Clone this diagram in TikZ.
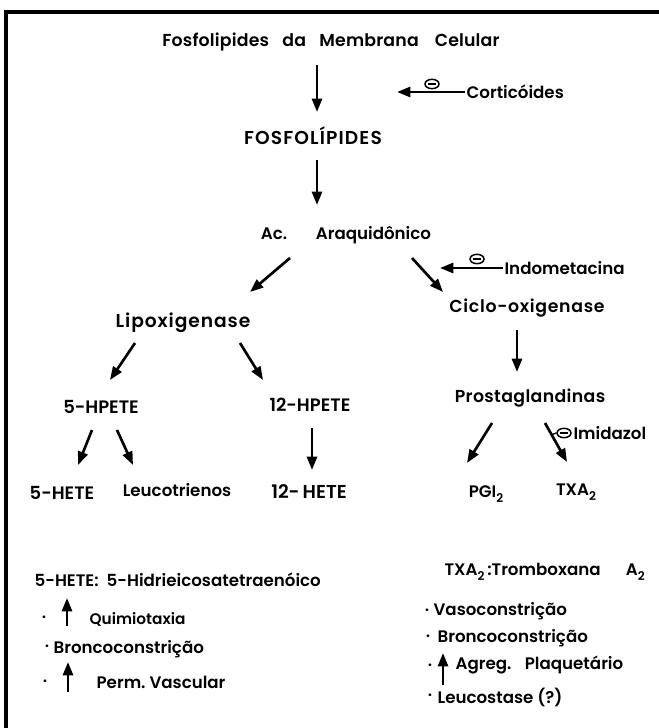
\documentclass[tikz,border=0pt]{standalone}
\usepackage{fontspec}
\setmainfont{Poppins SemiBold}
\usetikzlibrary{arrows.meta,calc,shapes.geometric}
\newcommand{\subdown}[1]{\raisebox{-0.5ex}{\small #1}}

\begin{document}
\begin{tikzpicture}[x=0.75pt, y=-0.75pt, every node/.style={font=\fontsize{12.5}{14}\selectfont, inner sep=1pt}, >={Triangle[length=10pt,width=7.5pt]},
	arr/.style={->, line width=2pt},
	neg/.style={draw, ellipse, line width=1.1pt, minimum width=10.5pt, minimum height=7pt, inner sep=0pt,
		path picture={\draw[line width=0.9pt] ([xshift=2.5pt]path picture bounding box.west) -- ([xshift=-2.5pt]path picture bounding box.east);}},
	dot/.style={anchor=center, font=\fontsize{12}{13}\selectfont},
	sized/.style 2 args={font=\fontsize{#1}{#1}\selectfont\addfontfeature{LetterSpace=#2}}]
	\useasboundingbox (0,0) rectangle (659,728);
	\draw[line width=2.3pt] (659,12) -- (6,12) -- (6,728);
	\node[sized={13}{1}] (memb) at (331,42) {Fosfolipides\hspace{10pt}da\hspace{10pt}Membrana\hspace{12pt}Celular};
	\node[sized={14}{6}] (fosfo) at (313,136) {FOSFOLÍPIDES};
	\node (ac) at (346,235) {Ac.\quad\ \ \ Araquidônico};
	\node[sized={14}{5}] (lipo) at (183,323) {Lipoxigenase};
	\node[sized={13}{4}] (ciclo) at (527,308) {Ciclo-oxigenase};
	\node[sized={13}{2}] (prosta) at (530,398) {Prostaglandinas};
	\node[sized={13.5}{0}] (hpete5) at (101,407) {5-HPETE};
	\node[sized={13.5}{0}] (hpete12) at (310,405) {12-HPETE};
	\node[sized={13.5}{0}] (hete5) at (62,493) {5-HETE};
	\node (leuco) at (177,490) {Leucotrienos};
	\node[sized={14}{0}] (hete12) at (309,492) {12-\,HETE};
	\node (pgi) at (486,494) {PGI\subdown{2}};
	\node (txa) at (576,492) {TXA\subdown{2}};
	\draw[arr] ($(memb)+(-14,23)$) -- ($(fosfo)+(4,-24)$);
	\draw[arr] ($(fosfo)+(4,24)$) -- ($(ac)+(-29,-30)$);
	\draw[arr] ($(ac)+(-56,23)$) -- ($(lipo)+(67,-31)$);
	\draw[arr] ($(ac)+(66,23)$) -- ($(ciclo)+(-84,-16)$);
	\draw[arr] ($(lipo)+(-48,20)$) -- ($(hpete5)+(9,-27)$);
	\draw[arr] ($(lipo)+(57,20)$) -- ($(hpete12)+(-47,-25)$);
	\draw[arr] ($(ciclo)+(-10,22)$) -- ($(prosta)+(-13,-26)$);
	\draw[arr] ($(hpete5)+(-9,23)$) -- ($(hete5)+(16,-28)$);
	\draw[arr] ($(hpete5)+(16,23)$) -- ($(leuco)+(-44,-25)$);
	\draw[arr] ($(hpete12)+(2,23)$) -- ($(hete12)+(3,-22)$);
	\draw[arr] ($(prosta)+(-38,25)$) -- ($(pgi)+(-19,-31)$);
	\draw[arr] ($(prosta)+(15,25)$) -- coordinate[pos=0.3] (txin) ($(txa)+(-9,-30)$);
	\node[anchor=west] (cortic) at (465,92) {Corticóides};
	\coordinate (corticend) at (397,92);
	\draw[arr] (cortic.west) -- (corticend);
	\node[neg] (neg1) at (432,84) {};
	\node[anchor=west] (indo) at (503,268) {Indometacina};
	\coordinate (indoend) at (440,268);
	\draw[arr] (indo.west) -- (indoend);
	\node[neg] (neg2) at (477,259) {};
	\node[anchor=west] (imid) at (572,433) {Imidazol};
	\node[neg] (neg3) at (564,433) {};
	\draw[line width=1pt] (neg3.west) -- (txin);
	\node[anchor=west] (def5) at (33,580) {5-HETE:\ \ 5-Hidrieicosatetraenóico};
	\node[dot] (d1) at (44,619) {·};
	\draw[arr] (67,626) -- (67,598);
	\node[anchor=west, font=\fontsize{11.5}{13}\selectfont] (quimio) at (88,619) {Quimiotaxia};
	\node[dot] (d2) at (47,648) {·};
	\node[anchor=west] (bronc1) at (52,649) {Broncoconstrição};
	\node[dot] (d3) at (45,683) {·};
	\draw[arr] (68,692) -- (68,662);
	\node[anchor=west] (perm) at (95,682) {Perm.\ Vascular};
	\node[anchor=west] (deftx) at (443,572) {TXA\subdown{2}\,:Tromboxana\hspace{19pt}A\subdown{2}};
	\node[dot] (d4) at (427,612) {·};
	\node[anchor=west] (vaso) at (432,611) {Vasoconstrição};
	\node[dot] (d5) at (428,638) {·};
	\node[anchor=west] (bronc2) at (436,638) {Broncoconstrição};
	\node[dot] (d6) at (430,667) {·};
	\draw[arr] (443,685) -- (443,653);
	\node[anchor=west] (agreg) at (454,665) {Agreg.\hspace{10pt}Plaquetário};
	\node[dot] (d7) at (430,697) {·};
	\node[anchor=west] (leucost) at (436,697) {Leucostase (?)};
\end{tikzpicture}
\end{document}
